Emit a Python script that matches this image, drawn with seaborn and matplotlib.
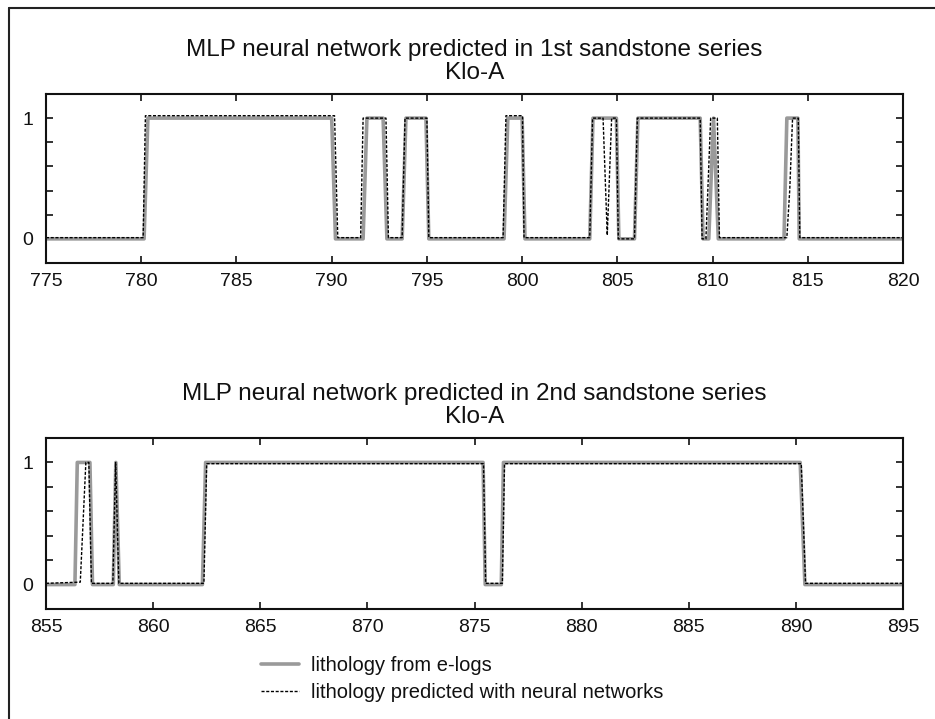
import numpy as np
import pandas as pd
import matplotlib
matplotlib.use("Agg")
import matplotlib.pyplot as plt
from matplotlib.lines import Line2D
from matplotlib.ticker import MultipleLocator
import seaborn as sns

# 1st sandstone series (depth, lithology 0/1)
depth_log_1 = [775.0, 780.15, 780.35, 790.0, 790.2, 791.65, 791.85, 792.7, 792.9,
               793.7, 793.9, 794.95, 795.1, 799.05, 799.25, 800.0, 800.15, 803.55,
               803.72, 804.95, 805.08, 805.9, 806.08, 809.35, 809.5, 809.8, 810.05,
               810.3, 813.75, 813.9, 814.48, 814.55, 820.0]
litho_log_1 = [0, 0, 1, 1, 0, 0, 1, 1, 0,
               0, 1, 1, 0, 0, 1, 1, 0, 0,
               1, 1, 0, 0, 1, 1, 0, 0, 1,
               0, 0, 1, 1, 0, 0]

depth_nn_1 = [775.0, 780.1, 780.22, 790.15, 790.32, 791.52, 791.65, 792.85, 792.98,
              793.7, 793.85, 795.0, 795.1, 799.0, 799.15, 800.02, 800.1, 803.55,
              803.7, 804.25, 804.47, 804.7, 804.95, 805.05, 805.9, 806.05, 809.35,
              809.45, 809.65, 809.9, 810.25, 810.36, 813.9, 814.05, 814.2, 814.5,
              814.58, 820.0]
litho_nn_1 = [0.01, 0.01, 1.02, 1.02, 0.01, 0.01, 1.0, 1.0, 0.01,
              0.01, 1.0, 1.0, 0.01, 0.01, 1.02, 1.02, 0.01, 0.01,
              1.0, 1.0, 0.03, 1.0, 1.0, 0.0, 0.0, 1.0, 1.0,
              0.0, 0.0, 1.0, 1.0, 0.01, 0.01, 0.4, 1.0, 1.0,
              0.01, 0.01]

# 2nd sandstone series
depth_log_2 = [855.0, 856.35, 856.46, 857.05, 857.17, 858.14, 858.26, 858.42,
               862.3, 862.45, 875.4, 875.5, 876.25, 876.35, 890.2, 890.42, 895.0]
litho_log_2 = [0, 0, 1, 1, 0, 0, 1, 0,
               0, 1, 1, 0, 0, 1, 1, 0, 0]

depth_nn_2 = [855.0, 856.6, 856.86, 857.0, 857.12, 858.12, 858.25, 858.4,
              862.37, 862.5, 875.42, 875.52, 876.3, 876.4, 890.25, 890.45, 895.0]
litho_nn_2 = [0.01, 0.02, 1.0, 1.0, 0.01, 0.01, 1.0, 0.01,
              0.01, 0.99, 0.99, 0.01, 0.01, 0.99, 0.99, 0.01, 0.01]

titles = ["MLP neural network predicted in 1st sandstone series\nKlo-A",
          "MLP neural network predicted in 2nd sandstone series\nKlo-A"]
xlims = [(775, 820), (855, 895)]
label_log = "lithology from e-logs"
label_nn = "lithology predicted with neural networks"

sns.set_style("ticks")
plt.rcParams['font.family'] = ['Liberation Sans', 'DejaVu Sans']

fig = plt.figure(figsize=(9.35, 7.19), dpi=100)
ax1 = fig.add_axes([0.0492, 0.6342, 0.9166, 0.2351])
ax2 = fig.add_axes([0.0492, 0.1530, 0.9166, 0.2378])

series = [(ax1, depth_log_1, litho_log_1, depth_nn_1, litho_nn_1),
          (ax2, depth_log_2, litho_log_2, depth_nn_2, litho_nn_2)]

for i, (ax, dl, ll, dn, ln) in enumerate(series):
    df_log = pd.DataFrame({"depth": dl, "litho": ll})
    df_nn = pd.DataFrame({"depth": dn, "litho": ln})
    sns.lineplot(data=df_log, x="depth", y="litho", ax=ax, sort=False,
                 color="#9a9a9a", linewidth=2.6, label=label_log, legend=False)
    sns.lineplot(data=df_nn, x="depth", y="litho", ax=ax, sort=False,
                 color="black", linewidth=1.0, dashes=False, label=label_nn,
                 legend=False)
    ax.lines[1].set_dashes([2.2, 1.2])
    ax.set_xlim(*xlims[i])
    ax.set_ylim(-0.2, 1.2)
    ax.set_xticks(np.arange(xlims[i][0], xlims[i][1] + 1, 5))
    ax.set_yticks([0, 1])
    ax.yaxis.set_minor_locator(MultipleLocator(0.2))
    ax.tick_params(which="both", direction="in", top=True, right=True,
                   labelsize=14, length=5, width=1.2, pad=7, colors="#111111")
    ax.tick_params(axis="y", pad=9)
    ax.set_xlabel("")
    ax.set_ylabel("")
    for sp in ax.spines.values():
        sp.set_linewidth(1.5)
        sp.set_color("#111111")
    ax.set_title(titles[i], fontsize=17.5, pad=11, linespacing=1.05,
                 color="#111111")

handles, labels = ax2.get_legend_handles_labels()
fig.legend(handles, labels, loc="upper left", bbox_to_anchor=(0.270, 0.099),
           frameon=False, fontsize=14.5, handlelength=1.9, labelspacing=0.4,
           borderaxespad=0, handletextpad=0.6, labelcolor="#111111")

# frame lines on left and top
fig.add_artist(Line2D([0.0096, 0.0096], [0, 0.989], transform=fig.transFigure,
                      color="#222222", lw=1.5))
fig.add_artist(Line2D([0.0096, 1.0], [0.989, 0.989], transform=fig.transFigure,
                      color="#222222", lw=1.5))

fig.savefig("out.png", dpi=100)
